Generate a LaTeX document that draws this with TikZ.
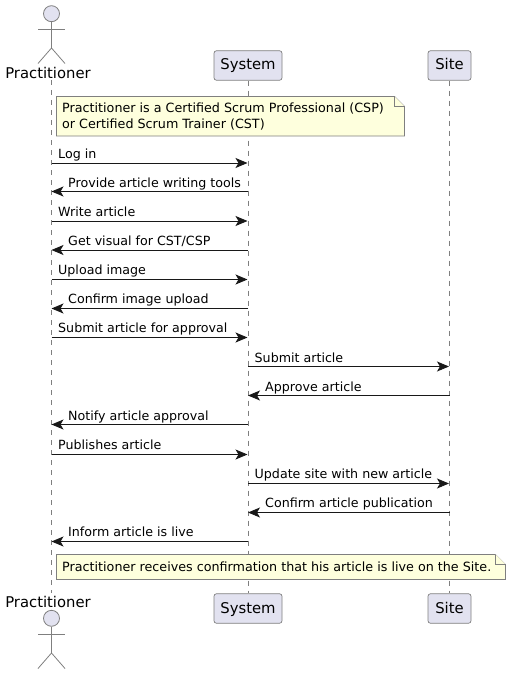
\documentclass[tikz,border=0pt]{standalone}
\usepackage{fontspec}
\setmainfont{DejaVu Sans}
\usetikzlibrary{arrows.meta}
\definecolor{partfill}{HTML}{E2E2F0}
\definecolor{notefill}{HTML}{FEFFDD}
\definecolor{edgegray}{HTML}{7F7F7F}
\definecolor{msgblack}{HTML}{181818}
\tikzset{
  part/.style={draw=edgegray,fill=partfill,rounded corners=2.5pt,line width=0.7pt,
    minimum height=29.5pt,inner xsep=0pt,text height=11.5pt,text depth=2.5pt,
    font=\fontsize{14.8}{16}\selectfont,text=black},
  actorname/.style={inner sep=0pt,font=\fontsize{14.8}{16}\selectfont,text=black},
  actorline/.style={draw=edgegray,line width=0.8pt},
  lifeline/.style={draw=edgegray,line width=0.7pt,dash pattern=on 5pt off 5pt},
  notebox/.style={draw=edgegray,fill=notefill,line width=0.7pt,line join=miter},
  notetext/.style={inner sep=0pt,anchor=base west,font=\fontsize{12.72}{15.5}\selectfont,text=black},
  msg/.style={draw=msgblack,line width=0.9pt,-{Stealth[length=12pt,width=10pt,inset=3pt]}},
  msgtext/.style={inner sep=0pt,anchor=base west,font=\fontsize{12.65}{15}\selectfont,text=black}
}
\begin{document}
\begin{tikzpicture}[x=1pt,y=-1pt,line cap=butt]
  \useasboundingbox (0,0) rectangle (511,674);
  % participants
  \node[part,minimum width=68pt] (systop) at (248,65.5) {System};
  \node[part,minimum width=43pt] (sitetop) at (449.5,65.5) {Site};
  \node[part,minimum width=68pt] (sysbot) at (248,608.5) {System};
  \node[part,minimum width=43pt] (sitebot) at (449.5,608.5) {Site};
  \node[actorname] (prtop) at (48,73) {Practitioner};
  \node[actorname] (prbot) at (48,602) {Practitioner};
  \coordinate (prstart) at (51.5,80);
  \coordinate (prend) at (51.5,593);
  % lifelines
  \draw[lifeline] (prstart) -- (prend);
  \draw[lifeline] (systop.south) -- (sysbot.north);
  \draw[lifeline] (sitetop.south) -- (sitebot.north);
  % top actor
  \node[actorline,fill=partfill,circle,minimum size=16pt,inner sep=0pt] (headtop) at (51.5,13.7) {};
  \coordinate (hiptop) at (51.5,48);
  \coordinate (armltop) at (38,29);
  \coordinate (armrtop) at (65,29);
  \coordinate (legltop) at (38,63.5);
  \coordinate (legrtop) at (65,63.5);
  \draw[actorline] (headtop.south) -- (hiptop);
  \draw[actorline] (armltop) -- (armrtop);
  \draw[actorline] (legltop) -- (hiptop) -- (legrtop);
  % bottom actor
  \node[actorline,fill=partfill,circle,minimum size=16pt,inner sep=0pt] (headbot) at (51.5,618.3) {};
  \coordinate (hipbot) at (51.5,653);
  \coordinate (armlbot) at (38,634);
  \coordinate (armrbot) at (65,634);
  \coordinate (leglbot) at (38,668.5);
  \coordinate (legrbot) at (65,668.5);
  \draw[actorline] (headbot.south) -- (hipbot);
  \draw[actorline] (armlbot) -- (armrbot);
  \draw[actorline] (leglbot) -- (hipbot) -- (legrbot);
  % notes
  \draw[notebox] (56.5,96.5) -- (394.5,96.5) -- (404.5,106.5) -- (404.5,136) -- (56.5,136) -- cycle;
  \draw[notebox] (394.5,96.5) -- (394.5,106.5) -- (404.5,106.5);
  \node[notetext] (noteone) at (62,113) {Practitioner is a Certified Scrum Professional (CSP)};
  \node[notetext] (notetwo) at (62,128.5) {or Certified Scrum Trainer (CST)};
  \draw[notebox] (56.5,554.5) -- (495.5,554.5) -- (505.5,564.5) -- (505.5,579.5) -- (56.5,579.5) -- cycle;
  \draw[notebox] (495.5,554.5) -- (495.5,564.5) -- (505.5,564.5);
  \node[notetext] (notethree) at (62,571) {Practitioner receives confirmation that his article is live on the Site.};
  % message ends
  \coordinate (pa) at (51.5,163);    \coordinate (sa) at (247.5,163);
  \coordinate (pb) at (51.5,191.5);  \coordinate (sb) at (248,191.5);
  \coordinate (pc) at (51.5,221);    \coordinate (sc) at (247.5,221);
  \coordinate (pd) at (51.5,250);    \coordinate (sd) at (248,250);
  \coordinate (pe) at (51.5,279.5);  \coordinate (se) at (247.5,279.5);
  \coordinate (pf) at (51.5,308.5);  \coordinate (sf) at (248,308.5);
  \coordinate (pg) at (51.5,337.5);  \coordinate (sg) at (247.5,337.5);
  \coordinate (sh) at (248,366.5);   \coordinate (th) at (449,366.5);
  \coordinate (si) at (248,395.5);   \coordinate (ti) at (449.5,395.5);
  \coordinate (pj) at (51.5,424.5);  \coordinate (sj) at (248,424.5);
  \coordinate (pk) at (51.5,454.5);  \coordinate (sk) at (247.5,454.5);
  \coordinate (sl) at (248,483.5);   \coordinate (tl) at (449,483.5);
  \coordinate (sm) at (248,512.5);   \coordinate (tm) at (449.5,512.5);
  \coordinate (pn) at (51.5,541.5);  \coordinate (sn) at (248,541.5);
  % messages
  \draw[msg] (pa) -- (sa);
  \draw[msg] (sb) -- (pb);
  \draw[msg] (pc) -- (sc);
  \draw[msg] (sd) -- (pd);
  \draw[msg] (pe) -- (se);
  \draw[msg] (sf) -- (pf);
  \draw[msg] (pg) -- (sg);
  \draw[msg] (sh) -- (th);
  \draw[msg] (ti) -- (si);
  \draw[msg] (sj) -- (pj);
  \draw[msg] (pk) -- (sk);
  \draw[msg] (sl) -- (tl);
  \draw[msg] (tm) -- (sm);
  \draw[msg] (sn) -- (pn);
  % labels
  \node[msgtext] (la) at (58,158) {Log in};
  \node[msgtext] (lb) at (68,187) {Provide article writing tools};
  \node[msgtext] (lc) at (58,216) {Write article};
  \node[msgtext] (ld) at (68,245) {Get visual for CST/CSP};
  \node[msgtext] (le) at (58,274) {Upload image};
  \node[msgtext] (lf) at (68,303) {Confirm image upload};
  \node[msgtext] (lg) at (58,332) {Submit article for approval};
  \node[msgtext] (lh) at (254.5,362) {Submit article};
  \node[msgtext] (li) at (265,391) {Approve article};
  \node[msgtext] (lj) at (68,420) {Notify article approval};
  \node[msgtext] (lk) at (58,449) {Publishes article};
  \node[msgtext] (ll) at (254.5,478) {Update site with new article};
  \node[msgtext] (lm) at (265,507) {Confirm article publication};
  \node[msgtext] (ln) at (68,536) {Inform article is live};
\end{tikzpicture}
\end{document}
